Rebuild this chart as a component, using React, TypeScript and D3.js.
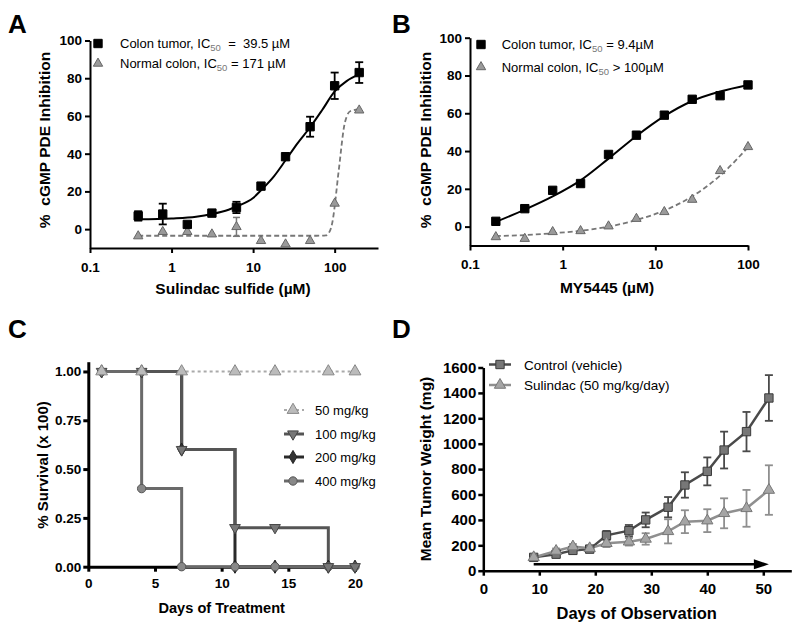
import React, { useEffect, useRef } from "react";
import * as d3 from "d3";

const FONT = "'Liberation Sans', Arial, Helvetica, sans-serif";

// A: sulindac sulfide dose response
const A_DOSE = [0.39, 0.78, 1.56, 3.125, 6.25, 12.5, 25, 50, 100, 200];
const A_TUMOR = [7, 8, 2.5, 8.5, 11.5, 22.8, 38.4, 54.3, 76, 83];
const A_TUMOR_ERR = [2.5, 5.5, 0, 0, 3, 0, 0, 5.3, 7, 5.5];
const A_NORMAL = [-3.7, -1.4, -1.4, -2.7, 1.2, -6.2, -8, -6.2, 13.6, 63];
const A_NORMAL_ERR = [0, 0, 0, 0, 5, 0, 0, 0, 0, 0];
const A_TUMOR_FIT_X = [0.39, 1, 2, 3.125, 5, 6.25, 10, 12.5, 18, 25, 35, 50, 70, 100, 140, 200];
const A_TUMOR_FIT_Y = [5.2, 5.7, 6.6, 8, 10.3, 12, 16.5, 20.6, 28, 36.5, 45.5, 54, 63, 73, 78.5, 82];
const A_NORMAL_FIT_X = [0.39, 20, 60, 78, 85, 90, 95, 100, 105, 110, 115, 122, 130, 140, 155, 200];
const A_NORMAL_FIT_Y = [-3.5, -3.5, -3.5, -3.3, -2, 0.5, 5, 12, 20, 28, 35, 45, 54, 59.5, 62.5, 63.5];

// B: MY5445 dose response
const B_DOSE = [0.19, 0.39, 0.78, 1.56, 3.125, 6.25, 12.5, 25, 50, 100];
const B_TUMOR = [2.8, 9.5, 19.2, 22.8, 38.2, 48.4, 59, 67.4, 69.3, 75];
const B_NORMAL = [-5.5, -6.4, -2.8, -2.3, 0.2, 4.2, 7.8, 14.3, 29.5, 42.2];
const B_TUMOR_FIT = [2.5, 9, 16, 24.5, 36, 48, 58.5, 66.5, 71.5, 75];
const B_NORMAL_FIT = [-5, -4.5, -3.5, -2.2, 0, 3.5, 8.5, 16, 27, 42];

const LOG_TICKS = [0.1, 1, 10, 100];
const PCT_TICKS = [0, 20, 40, 60, 80, 100];

// C: survival
const C_DAYS = [1, 4, 7, 11, 14, 18, 20];
const C_50 = [1, 1, 1, 1, 1, 1, 1];
const C_100 = [1, 1, 0.6, 0.2, 0.2, 0, 0];
const C_200 = [1, 1, 0.6, 0, 0, 0, 0];
const C_400 = [1, 0.4, 0, 0, 0, 0, 0];
const C_XTICKS = [0, 5, 10, 15, 20];
const C_YTICKS = [0, 0.25, 0.5, 0.75, 1];

// D: tumor weight
const D_DAYS = [9, 13, 16, 19, 22, 26, 29, 33, 36, 40, 43, 47, 51];
const D_CONTROL = [105, 130, 160, 170, 278, 315, 400, 500, 675, 782, 950, 1095, 1360];
const D_CONTROL_ERR = [20, 25, 25, 25, 35, 45, 58, 80, 100, 110, 145, 155, 180];
const D_SULINDAC = [105, 155, 190, 176, 216, 228, 250, 310, 386, 394, 452, 491, 635];
const D_SULINDAC_ERR = [15, 20, 20, 20, 30, 30, 45, 95, 90, 90, 118, 145, 195];
const D_ARROW = [9, 51];
const D_ARROW_Y = 50;
const D_XTICKS = [0, 10, 20, 30, 40, 50];
const D_YTICKS = [0, 200, 400, 600, 800, 1000, 1200, 1400, 1600];

const styleAxis = (g: any, w: number, fs: number) => {
  g.attr("font-family", FONT).attr("font-size", fs).attr("font-weight", "bold");
  g.select(".domain").attr("stroke", "#000").attr("stroke-width", w);
  g.selectAll(".tick line").attr("stroke", "#000").attr("stroke-width", w);
  g.selectAll(".tick text").attr("fill", "#000");
};

const marker = (g: any, type: any, size: number, px: number, py: number, fill: string, stroke: string, rot = 0) =>
  g.append("path")
    .attr("d", d3.symbol().type(type).size(size)())
    .attr("transform", `translate(${px},${py}) rotate(${rot})`)
    .attr("fill", fill)
    .attr("stroke", stroke)
    .attr("stroke-width", 1);

const errBars = (g: any, xs: number[], ys: number[], es: number[], sx: any, sy: any, color: string, cap: number, w: number) => {
  xs.forEach((xv, i) => {
    if (!es[i]) return;
    const px = sx(xv);
    const y0 = sy(ys[i] - es[i]);
    const y1 = sy(ys[i] + es[i]);
    g.append("line").attr("x1", px).attr("x2", px).attr("y1", y0).attr("y2", y1).attr("stroke", color).attr("stroke-width", w);
    [y0, y1].forEach((yy) =>
      g.append("line").attr("x1", px - cap / 2).attr("x2", px + cap / 2).attr("y1", yy).attr("y2", yy).attr("stroke", color).attr("stroke-width", w)
    );
  });
};

const letter = (svg: any, t: string, x: number, y: number) =>
  svg.append("text").attr("x", x).attr("y", y).attr("font-family", FONT).attr("font-weight", "bold").attr("font-size", 26).text(t);

const title = (svg: any, t: string, x: number, y: number, fs: number, rotate = false) =>
  svg.append("text")
    .attr("transform", rotate ? `translate(${x},${y}) rotate(-90)` : `translate(${x},${y})`)
    .attr("text-anchor", "middle")
    .attr("font-family", FONT)
    .attr("font-weight", "bold")
    .attr("font-size", fs)
    .style("white-space", "pre")
    .text(t);

const icLegend = (svg: any, x: number, y: number, pre: string, post: string) => {
  const t = svg.append("text").attr("x", x).attr("y", y).attr("font-family", FONT).attr("font-size", 13).style("white-space", "pre");
  t.append("tspan").text(pre);
  t.append("tspan").attr("font-size", 9.5).attr("dy", 3).attr("fill", "#777").text("50");
  t.append("tspan").attr("dy", -3).text(post);
};

export default function App() {
  const svgRef = useRef<SVGSVGElement>(null);

  useEffect(() => {
    document.body.style.margin = "0";
    const svg = d3.select(svgRef.current);
    svg.selectAll("*").remove();

    // ---------- dose response panels (A, B) ----------
    const drawDose = (cfg: any) => {
      const { sx, sy, xTicks } = cfg;
      const g = svg.append("g");
      const yBottom = sy.domain()[0];

      g.append("g")
        .attr("transform", `translate(0,${sy(yBottom)})`)
        .call(d3.axisBottom(sx).tickValues(xTicks).tickFormat((d: any) => String(d)).tickSize(5).tickPadding(9).tickSizeOuter(0))
        .call((a: any) => styleAxis(a, 2, 13.5));
      g.append("g")
        .attr("transform", `translate(${sx.range()[0]},0)`)
        .call(d3.axisLeft(sy).tickValues(PCT_TICKS).tickSize(5).tickPadding(3).tickSizeOuter(0))
        .call((a: any) => styleAxis(a, 2, 13.5));

      const line = d3.line<number[]>().curve(d3.curveMonotoneX).x((d) => sx(d[0])).y((d) => sy(d[1]));
      g.append("path").attr("d", line(d3.zip(cfg.nFitX, cfg.nFitY) as any))
        .attr("fill", "none").attr("stroke", "#777").attr("stroke-width", 1.8).attr("stroke-dasharray", "5,3");
      g.append("path").attr("d", line(d3.zip(cfg.tFitX, cfg.tFitY) as any))
        .attr("fill", "none").attr("stroke", "#000").attr("stroke-width", 2);

      if (cfg.nErr) errBars(g, cfg.dose, cfg.normal, cfg.nErr, sx, sy, "#777", 7, 1.5);
      if (cfg.tErr) errBars(g, cfg.dose, cfg.tumor, cfg.tErr, sx, sy, "#000", 8, 1.8);

      cfg.dose.forEach((d: number, i: number) => marker(g, d3.symbolTriangle, 38, sx(d), sy(cfg.normal[i]), "#9a9a9a", "#666"));
      cfg.dose.forEach((d: number, i: number) => marker(g, d3.symbolSquare, 70, sx(d), sy(cfg.tumor[i]), "#000", "#000"));
    };

    const ax = d3.scaleLog().domain([0.1, 340]).range([90, 378]);
    const ay = d3.scaleLinear().domain([-10, 100]).range([248, 40.5]);
    drawDose({
      sx: ax, sy: ay, xTicks: LOG_TICKS, dose: A_DOSE, tumor: A_TUMOR, normal: A_NORMAL,
      tErr: A_TUMOR_ERR, nErr: A_NORMAL_ERR,
      tFitX: A_TUMOR_FIT_X, tFitY: A_TUMOR_FIT_Y, nFitX: A_NORMAL_FIT_X, nFitY: A_NORMAL_FIT_Y,
    });
    marker(svg, d3.symbolSquare, 70, 98, 43.5, "#000", "#000");
    marker(svg, d3.symbolTriangle, 38, 98, 63.5, "#9a9a9a", "#666");
    icLegend(svg, 120, 48, "Colon tumor, IC", "  =  39.5 \u00b5M");
    icLegend(svg, 120, 68, "Normal colon, IC", " = 171 \u00b5M");
    title(svg, "Sulindac sulfide (\u00b5M)", 233, 294, 15.5);
    title(svg, "%  cGMP PDE Inhibition", 49.5, 140, 15.5, true);
    letter(svg, "A", 8, 33);

    const bx = d3.scaleLog().domain([0.1, 100]).range([470, 748]);
    const by = d3.scaleLinear().domain([-10, 100]).range([245.5, 37.7]);
    drawDose({
      sx: bx, sy: by, xTicks: LOG_TICKS, dose: B_DOSE, tumor: B_TUMOR, normal: B_NORMAL,
      tFitX: B_DOSE, tFitY: B_TUMOR_FIT, nFitX: B_DOSE, nFitY: B_NORMAL_FIT,
    });
    marker(svg, d3.symbolSquare, 70, 481, 44.5, "#000", "#000");
    marker(svg, d3.symbolTriangle, 38, 481, 67, "#9a9a9a", "#666");
    icLegend(svg, 501.7, 49, "Colon tumor, IC", " = 9.4\u00b5M");
    icLegend(svg, 501.7, 71.5, "Normal colon, IC", " > 100\u00b5M");
    title(svg, "MY5445 (\u00b5M)", 607, 292.5, 15.5);
    title(svg, "%  cGMP PDE Inhibition", 431, 140, 15.5, true);
    letter(svg, "B", 392, 33);

    // ---------- C: survival ----------
    const cx = d3.scaleLinear().domain([0, 20]).range([88.3, 355]);
    const cy = d3.scaleLinear().domain([0, 1.05]).range([566.7, 361.7]);
    const gc = svg.append("g");
    gc.append("g")
      .attr("transform", `translate(0,${cy(0)})`)
      .call(d3.axisBottom(cx).tickValues(C_XTICKS).tickSize(5).tickPadding(7).tickSizeOuter(0))
      .call((a: any) => styleAxis(a, 3, 13.5));
    gc.append("g")
      .attr("transform", `translate(${cx(0)},0)`)
      .call(d3.axisLeft(cy).tickValues(C_YTICKS).tickFormat(d3.format(".2f") as any).tickSize(5).tickPadding(2).tickSizeOuter(0))
      .call((a: any) => styleAxis(a, 3, 13.5));

    const cSeries = [
      { key: "50", vals: C_50, color: "#aaa", w: 2, dash: "3,3", sym: d3.symbolTriangle, size: 60, fill: "#bbb", stroke: "#888", rot: 0 },
      { key: "100", vals: C_100, color: "#555", w: 3, dash: null, sym: d3.symbolTriangle, size: 50, fill: "#777", stroke: "#444", rot: 180 },
      { key: "200", vals: C_200, color: "#2a2a2a", w: 3, dash: null, sym: d3.symbolDiamond, size: 50, fill: "#333", stroke: "#222", rot: 0 },
      { key: "400", vals: C_400, color: "#6a6a6a", w: 3, dash: null, sym: d3.symbolCircle, size: 55, fill: "#888", stroke: "#555", rot: 0 },
    ];
    const stepLine = d3.line<number>().curve(d3.curveStepAfter).x((_, i) => cx(C_DAYS[i])).y((d) => cy(d));
    ["50", "200", "100", "400"].forEach((k) => {
      const s = cSeries.find((c) => c.key === k)!;
      gc.append("path").attr("d", stepLine(s.vals)).attr("fill", "none").attr("stroke", s.color)
        .attr("stroke-width", s.w).attr("stroke-dasharray", s.dash);
    });
    ["200", "400", "100", "50"].forEach((k) => {
      const s = cSeries.find((c) => c.key === k)!;
      s.vals.forEach((v, i) => marker(gc, s.sym, s.size, cx(C_DAYS[i]), cy(v), s.fill, s.stroke, s.rot));
    });
    const cLegY = [410, 434, 457, 481];
    cSeries.forEach((s, i) => {
      gc.append("line").attr("x1", 284).attr("x2", 304).attr("y1", cLegY[i]).attr("y2", cLegY[i])
        .attr("stroke", s.color).attr("stroke-width", s.w).attr("stroke-dasharray", s.dash);
      marker(gc, s.sym, s.size, 293, cLegY[i], s.fill, s.stroke, s.rot);
      gc.append("text").attr("x", 315).attr("y", cLegY[i] + 4.5).attr("font-family", FONT).attr("font-size", 13)
        .text(`${s.key} mg/kg`);
    });
    title(svg, "Days of Treatment", 221.7, 613, 14.6);
    title(svg, "% Survival (x 100)", 48, 465, 15, true);
    letter(svg, "C", 8, 338);

    // ---------- D: tumor weight ----------
    const dx = d3.scaleLinear().domain([0, 55]).range([483.3, 791.3]);
    const dy = d3.scaleLinear().domain([0, 1600]).range([570.7, 367.5]);
    const gd = svg.append("g");
    gd.append("g")
      .attr("transform", `translate(0,${dy(0)})`)
      .call(d3.axisBottom(dx).tickValues(D_XTICKS).tickSize(5).tickPadding(8).tickSizeOuter(0))
      .call((a: any) => styleAxis(a, 2.5, 15));
    gd.append("g")
      .attr("transform", `translate(${dx(0)},0)`)
      .call(d3.axisLeft(dy).tickValues(D_YTICKS).tickFormat(d3.format("d") as any).tickSize(5).tickPadding(2).tickSizeOuter(0))
      .call((a: any) => styleAxis(a, 2.5, 15));

    // treatment arrow
    const ay0 = dy(D_ARROW_Y);
    gd.append("line").attr("x1", dx(D_ARROW[0])).attr("x2", dx(D_ARROW[1]) - 12).attr("y1", ay0).attr("y2", ay0)
      .attr("stroke", "#000").attr("stroke-width", 2.5);
    gd.append("path")
      .attr("d", `M${dx(D_ARROW[1]) - 15},${ay0 - 5}L${dx(D_ARROW[1])},${ay0}L${dx(D_ARROW[1]) - 15},${ay0 + 5}Z`)
      .attr("fill", "#000");

    const dLine = d3.line<number>().x((_, i) => dx(D_DAYS[i])).y((d) => dy(d));
    const dSeries = [
      { name: "Control (vehicle)", vals: D_CONTROL, err: D_CONTROL_ERR, color: "#4a4a4a", sym: d3.symbolSquare, size: 70, fill: "#777", stroke: "#3a3a3a" },
      { name: "Sulindac (50 mg/kg/day)", vals: D_SULINDAC, err: D_SULINDAC_ERR, color: "#8f8f8f", sym: d3.symbolTriangle, size: 55, fill: "#a5a5a5", stroke: "#777" },
    ];
    dSeries.forEach((s) => {
      errBars(gd, D_DAYS, s.vals, s.err, dx, dy, s.color, 8, 1.8);
      gd.append("path").attr("d", dLine(s.vals)).attr("fill", "none").attr("stroke", s.color).attr("stroke-width", 2.5);
    });
    dSeries.forEach((s) => {
      s.vals.forEach((v, i) => marker(gd, s.sym, s.size, dx(D_DAYS[i]), dy(v), s.fill, s.stroke));
    });
    const dLegY = [364.5, 385];
    dSeries.forEach((s, i) => {
      gd.append("line").attr("x1", 489).attr("x2", 511).attr("y1", dLegY[i]).attr("y2", dLegY[i])
        .attr("stroke", s.color).attr("stroke-width", 2.5);
      marker(gd, s.sym, s.size, 500, dLegY[i], s.fill, s.stroke);
      gd.append("text").attr("x", 524).attr("y", dLegY[i] + 5).attr("font-family", FONT).attr("font-size", 13.5)
        .text(s.name);
    });
    title(svg, "Days of Observation", 636.7, 619, 16.5);
    title(svg, "Mean Tumor Weight (mg)", 431, 469, 15.5, true);
    letter(svg, "D", 392, 338);
  }, []);

  return <svg ref={svgRef} width={800} height={631} style={{ display: "block", background: "#fff" }} />;
}
